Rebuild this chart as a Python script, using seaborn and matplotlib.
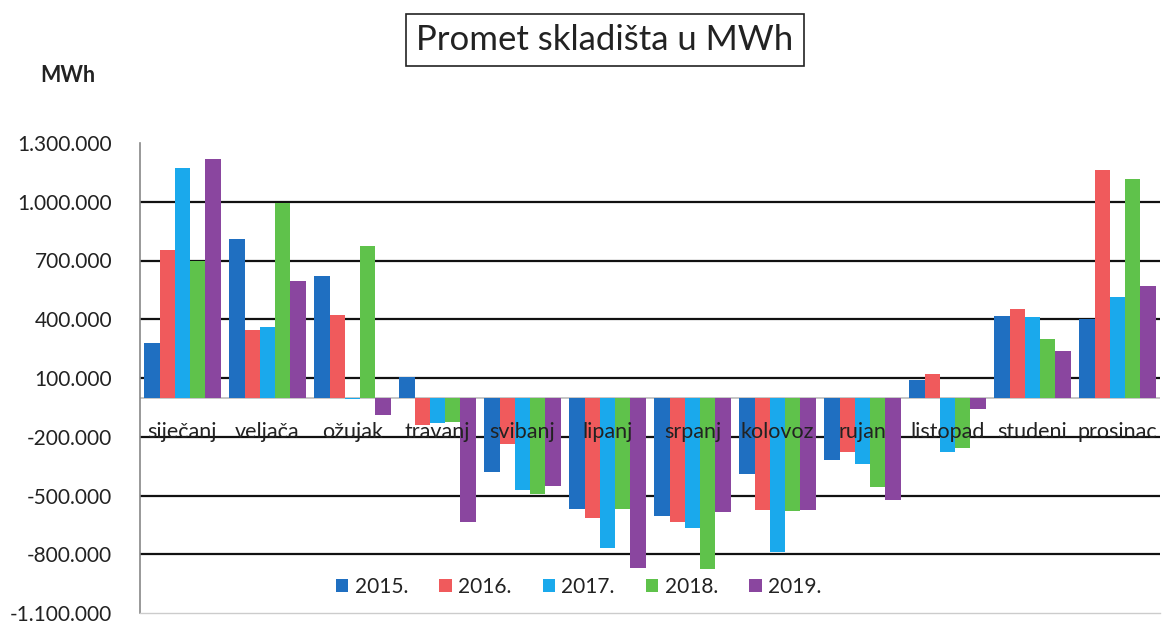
import matplotlib
matplotlib.use("Agg")
import matplotlib.pyplot as plt
import seaborn as sns
import pandas as pd
from matplotlib.ticker import FuncFormatter, FixedLocator

months = ["siječanj", "veljača", "ožujak", "travanj", "svibanj", "lipanj",
          "srpanj", "kolovoz", "rujan", "listopad", "studeni", "prosinac"]
years = ["2015.", "2016.", "2017.", "2018.", "2019."]

v2015 = [280000, 810000, 622000, 103000, -381000, -568000, -607000, -388000, -320000, 90000, 419000, 400000]
v2016 = [754000, 344000, 422000, -139000, -237000, -614000, -634000, -575000, -280000, 120000, 451000, 1161000]
v2017 = [1171000, 361000, -8000, -130000, -473000, -770000, -665000, -788000, -337000, -278000, 412000, 514000]
v2018 = [697000, 992000, 776000, -125000, -493000, -571000, -873000, -580000, -458000, -258000, 298000, 1114000]
v2019 = [1219000, 595000, -90000, -636000, -449000, -868000, -585000, -576000, -524000, -59000, 239000, 570000]

yticks = [-1100000, -800000, -500000, -200000, 100000, 400000, 700000, 1000000, 1300000]

colors = ["#1f6fc1", "#f05a5c", "#1aa9ec", "#5fc24b", "#8a469f"]

rows = []
for yr, vals in zip(years, [v2015, v2016, v2017, v2018, v2019]):
    for m, v in zip(months, vals):
        rows.append({"mjesec": m, "godina": yr, "MWh": v})
df = pd.DataFrame(rows)

sns.set_theme(style="white")
plt.rcParams["font.family"] = ["Lato", "DejaVu Sans"]

fig = plt.figure(figsize=(11.63, 6.25), dpi=100)
ax = fig.add_axes([140/1163, 1-613/625, 1020/1163, 470/625])

sns.barplot(data=df, x="mjesec", y="MWh", hue="godina", order=months,
            hue_order=years, palette=colors, width=0.9, gap=0,
            saturation=1, ax=ax, legend=True, zorder=3)
for p in ax.patches:
    p.set_edgecolor("none")

ax.set_ylim(-1100000, 1300000)
ax.set_xlim(-0.5, 11.5)
ax.yaxis.set_major_locator(FixedLocator(yticks))
ax.yaxis.set_major_formatter(FuncFormatter(lambda v, p: f"{int(v):,}".replace(",", ".")))
ax.tick_params(axis="y", length=0, pad=20, labelsize=15, colors="#222222")
ax.set_xticks([])
ax.set_xlabel("")
ax.set_ylabel("")

for t in yticks[1:-1]:
    ax.axhline(t, color="#111111", lw=1.6, zorder=1)
ax.axhline(0, color="#bbbbbb", lw=1.2, zorder=2)

for s in ["top", "right"]:
    ax.spines[s].set_visible(False)
ax.spines["left"].set_color("#888888")
ax.spines["left"].set_linewidth(1.2)
ax.spines["bottom"].set_color("#cccccc")
ax.spines["bottom"].set_linewidth(1.0)

for i, m in enumerate(months):
    ax.text(i, -175000, m, ha="center", va="center", fontsize=15.5,
            color="#222222", zorder=5)

leg = ax.legend(loc="lower center", bbox_to_anchor=(0.43, -0.005), ncol=5,
                frameon=False, fontsize=15, handlelength=0.6, handleheight=0.6,
                handletextpad=0.3, columnspacing=1.5)
for t in leg.get_texts():
    t.set_color("#222222")

fig.text(605/1163, 1-40/625, "Promet skladišta u MWh", ha="center", va="center",
         fontsize=25, color="#222222",
         bbox=dict(boxstyle="square,pad=0.3", facecolor="white", edgecolor="#222222", lw=1.2))
fig.text(40/1163, 1-76/625, "MWh", ha="left", va="center", fontsize=15.5,
         fontweight="bold", color="#222222")

fig.savefig("out.png", dpi=100)
